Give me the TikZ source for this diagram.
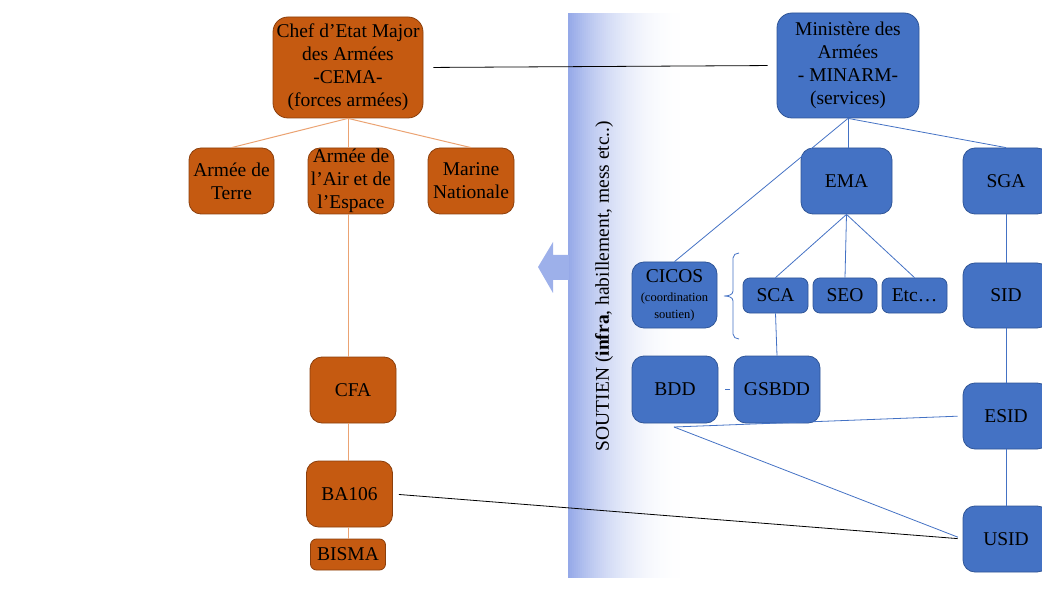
\documentclass[tikz,border=0pt]{standalone}
\usepackage{fontspec}
\setmainfont{Liberation Serif}
\definecolor{orfill}{HTML}{C55A11}
\definecolor{ordraw}{HTML}{8B3F0C}
\definecolor{orline}{HTML}{EBA373}
\definecolor{blfill}{HTML}{4472C4}
\definecolor{bldraw}{HTML}{2F5597}
\definecolor{bandL}{HTML}{95A9E8}
\definecolor{arrowc}{HTML}{9DB0EA}
\tikzset{
  box/.style={rounded corners=12pt, inner sep=0pt, align=center, line width=0.8pt,
    font=\fontsize{19.5}{23}\selectfont, text=black},
  obox/.style={box, fill=orfill, draw=ordraw},
  bbox/.style={box, fill=blfill, draw=bldraw},
  oline/.style={draw=orline, line width=1pt},
  bline/.style={draw=blfill, line width=0.8pt},
  kline/.style={draw=black, line width=0.8pt},
}
\begin{document}
\begin{tikzpicture}[x=1pt,y=-1pt]
\useasboundingbox (0,0) rectangle (1042,596);
\clip (0,0) rectangle (1042,596);
% band gradient
\foreach \i in {0,2,...,120}{
  \pgfmathsetmacro\p{100*(1-\i/122)^2.3}
  \fill[bandL!\p!white] (568+\i,13) rectangle (570.6+\i,578);
}
% arrow
\fill[arrowc] (538,267) -- (553,242) -- (553,255) -- (569,255) -- (569,280) -- (553,280) -- (553,293) -- cycle;
\node[rotate=90, font=\fontsize{19.5}{23}\selectfont] (band) at (604,286) {SOUTIEN (\textbf{infra}, habillement, mess etc..)};

% orange nodes
\node[obox, minimum width=150pt, minimum height=101pt, rounded corners=15pt] (cema) at (348,67.5) {Chef d’Etat Major\\des Armées\\-CEMA-\\(forces armées)};
\node[obox, minimum width=85pt, minimum height=66pt] (terre) at (231.5,181) {Armée de\\Terre};
\node[obox, minimum width=86pt, minimum height=66pt] (air) at (351,181) {Armée de\\l’Air et de\\l’Espace};
\node[obox, minimum width=86pt, minimum height=66pt] (marine) at (471,181) {Marine\\Nationale};
\node[obox, minimum width=86pt, minimum height=66pt] (cfa) at (353,390) {CFA};
\node[obox, minimum width=86pt, minimum height=66pt] (ba) at (349.5,494) {BA106};
\node[obox, minimum width=75pt, minimum height=31pt, rounded corners=6pt] (bisma) at (348,554.5) {BISMA};

% blue nodes
\node[bbox, minimum width=142pt, minimum height=105pt, rounded corners=15pt] (minarm) at (848,65.5) {Ministère des\\Armées\\- MINARM-\\(services)};
\node[bbox, minimum width=91pt, minimum height=66pt] (ema) at (846.5,181) {EMA};
\node[bbox, minimum width=86pt, minimum height=66pt] (sga) at (1006,181) {SGA};
\node[bbox, minimum width=85pt, minimum height=66pt] (cicos) at (674.5,295) {CICOS\\[-4pt]{\fontsize{12.5}{15}\selectfont(coordination}\\[-6pt]{\fontsize{12.5}{15}\selectfont soutien)}};
\node[bbox, minimum width=65pt, minimum height=35pt, rounded corners=7pt] (sca) at (775.5,295.5) {SCA};
\node[bbox, minimum width=64pt, minimum height=35pt, rounded corners=7pt] (seo) at (845,295.5) {SEO};
\node[bbox, minimum width=65pt, minimum height=35pt, rounded corners=7pt] (etc) at (914.5,295.5) {Etc…};
\node[bbox, minimum width=86pt, minimum height=65pt] (sid) at (1006,295.5) {SID};
\node[bbox, minimum width=86pt, minimum height=67pt] (bdd) at (675,389.5) {BDD};
\node[bbox, minimum width=86pt, minimum height=67pt] (gsbdd) at (777,389.5) {GSBDD};
\node[bbox, minimum width=86pt, minimum height=66pt] (esid) at (1006,416) {ESID};
\node[bbox, minimum width=86pt, minimum height=66pt] (usid) at (1006,539) {USID};
\coordinate (bj) at (674,427);

% brace
\draw[bline] (739,253) to[out=180,in=90] (733,258) -- (733,291) to[out=-90,in=0] (724,296)
  to[out=0,in=90] (733,301) -- (733,334) to[out=-90,in=180] (739,339);

% orange connectors
\draw[oline] (cema.south) -- (terre.north);
\draw[oline] (cema.south) -- (air.north -| cema.south);
\draw[oline] (cema.south) -- (marine.north);
\draw[oline] (348,214) -- (348,357);
\draw[oline] (348,423) -- (348,461);
\draw[oline] (348,527) -- (348,539);

% black connectors
\draw[kline, shorten <=10pt, shorten >=9pt] (cema.east) -- (minarm.west);
\draw[kline, shorten <=6pt, shorten >=5pt] (ba.east) -- (usid.west);

% blue connectors
\draw[bline] (minarm.south) -- (ema.north -| minarm.south);
\draw[bline] (minarm.south) -- (cicos.north);
\draw[bline] (minarm.south) -- (sga.north);
\draw[bline] (ema.south) -- (sca.north);
\draw[bline] (ema.south) -- (seo.north);
\draw[bline] (ema.south) -- (etc.north);
\draw[bline] (sca.south) -- (gsbdd.north);
\draw[bline] (sga.south) -- (sid.north);
\draw[bline] (sid.south) -- (esid.north);
\draw[bline] (esid.south) -- (usid.north);
\draw[bline, shorten <=7pt, shorten >=4pt] (bdd.east) -- (gsbdd.west);
\draw[bline, shorten >=5pt] (bj) -- (esid.west);
\draw[bline, shorten >=5pt] (bj) -- (usid.west);
\end{tikzpicture}
\end{document}
